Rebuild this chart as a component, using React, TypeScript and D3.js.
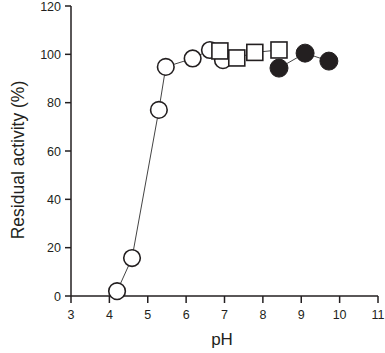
import React from "react";
import * as d3 from "d3";

const openPH = [4.2, 4.59, 5.29, 5.47, 6.17, 6.62, 6.96];
const openVal = [2, 15.7, 77, 94.8, 98.3, 101.8, 97.6];
const squarePH = [6.88, 7.32, 7.79, 8.42];
const squareVal = [101.4, 98.5, 100.8, 101.8];
const filledPH = [8.42, 9.1, 9.72];
const filledVal = [94.3, 100.5, 97.2];
const xTicks = [3, 4, 5, 6, 7, 8, 9, 10, 11];
const yTicks = [0, 20, 40, 60, 80, 100, 120];

export default function App() {
  const W = 385, H = 353;
  const x = d3.scaleLinear().domain([3, 11]).range([71, 378]);
  const y = d3.scaleLinear().domain([0, 120]).range([296, 6]);
  const ink = "#231f20";
  const font = "Liberation Sans, Arial, sans-serif";
  const line = d3.line<[number, number]>().x(d => x(d[0])).y(d => y(d[1]));
  const zip = (a: number[], b: number[]) => a.map((v, i) => [v, b[i]] as [number, number]);
  const open = zip(openPH, openVal);
  const sq = zip(squarePH, squareVal);
  const fi = zip(filledPH, filledVal);
  return (
    <svg width={W} height={H} style={{ position: "absolute", left: 0, top: 0 }}>
      <rect width={W} height={H} fill="#fff" />
      <line x1={71} x2={71} y1={y(120)} y2={y(0)} stroke={ink} strokeWidth={1.5} />
      <line x1={71} x2={x(11)} y1={y(0)} y2={y(0)} stroke={ink} strokeWidth={1.5} />
      {yTicks.map(t => (
        <g key={"y" + t}>
          <line x1={65} x2={71} y1={y(t)} y2={y(t)} stroke={ink} strokeWidth={1.5} />
          <text x={61} y={y(t) + 4.5} textAnchor="end" fontFamily={font} fontSize={12.5} fill={ink}>{t}</text>
        </g>
      ))}
      {xTicks.map(t => (
        <g key={"x" + t}>
          <line x1={x(t)} x2={x(t)} y1={y(0)} y2={y(0) + 7} stroke={ink} strokeWidth={1.5} />
          <text x={x(t)} y={y(0) + 23} textAnchor="middle" fontFamily={font} fontSize={12.5} fill={ink}>{t}</text>
        </g>
      ))}
      <text x={222} y={345} textAnchor="middle" fontFamily={font} fontSize={17} fill={ink}>pH</text>
      <text transform={`translate(24,160) rotate(-90)`} textAnchor="middle" fontFamily={font} fontSize={17.5} fill={ink}>Residual activity (%)</text>
      <path d={line(open) || ""} fill="none" stroke="#444" strokeWidth={1} />
      <path d={line(sq) || ""} fill="none" stroke="#444" strokeWidth={1} />
      <path d={line(fi) || ""} fill="none" stroke="#444" strokeWidth={1} />
      {open.map((d, i) => (
        <circle key={"o" + i} cx={x(d[0])} cy={y(d[1])} r={8.3} fill="#fff" stroke={ink} strokeWidth={1.6} />
      ))}
      {sq.map((d, i) => (
        <rect key={"s" + i} x={x(d[0]) - 8} y={y(d[1]) - 8} width={16} height={16} fill="#fff" stroke={ink} strokeWidth={1.6} />
      ))}
      {fi.map((d, i) => (
        <circle key={"f" + i} cx={x(d[0])} cy={y(d[1])} r={9} fill={ink} stroke={ink} strokeWidth={1} />
      ))}
    </svg>
  );
}
